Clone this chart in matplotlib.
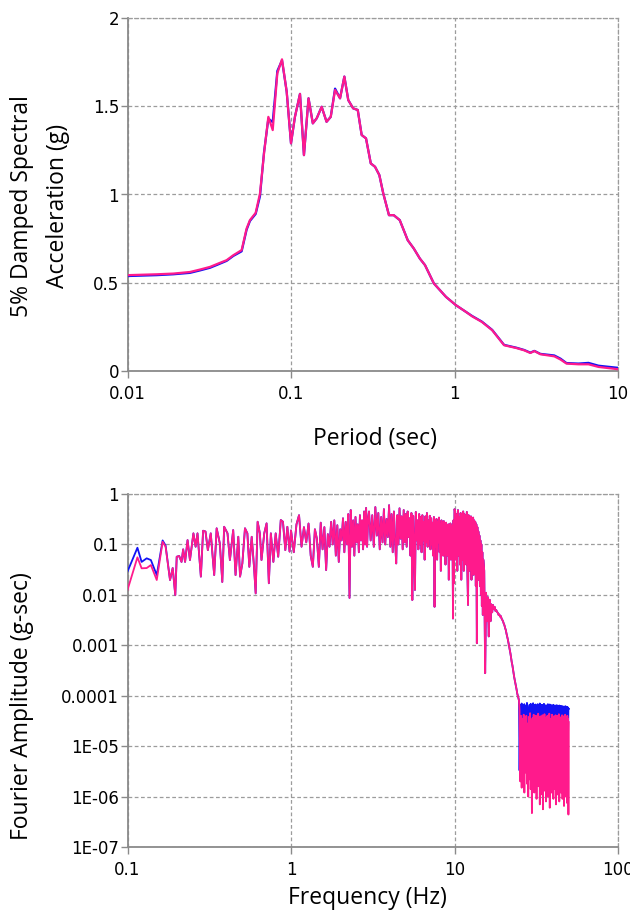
import numpy as np
import matplotlib
matplotlib.use("Agg")
import matplotlib.pyplot as plt
from matplotlib.ticker import NullLocator

# ---------------- top panel data: 5% damped spectral acceleration ----------------
period = [0.0100, 0.0151, 0.0191, 0.0241, 0.0278, 0.0320, 0.0359, 0.0404, 0.0444, 0.0499,
          0.0535, 0.0561, 0.0608, 0.0646, 0.0684, 0.0727, 0.0773, 0.0825, 0.0881, 0.0941,
          0.1000, 0.1057, 0.1135, 0.1200, 0.1280, 0.1360, 0.1437, 0.1540, 0.1650, 0.1750,
          0.1860, 0.1995, 0.2120, 0.2240, 0.2400, 0.2560, 0.2705, 0.2876, 0.3076, 0.3266,
          0.3470, 0.3667, 0.3974, 0.4246, 0.4624, 0.5176, 0.5636, 0.6140, 0.6600, 0.7480,
          0.8870, 1.020, 1.175, 1.280, 1.470, 1.700, 2.010, 2.390, 2.670, 2.910,
          3.080, 3.350, 4.080, 4.450, 4.840, 5.730, 6.600, 7.600, 10.00]
sa_pink = [0.543, 0.548, 0.552, 0.561, 0.575, 0.590, 0.609, 0.628, 0.656, 0.685,
           0.807, 0.855, 0.896, 1.006, 1.233, 1.440, 1.365, 1.687, 1.766, 1.583,
           1.290, 1.440, 1.570, 1.223, 1.545, 1.403, 1.432, 1.497, 1.412, 1.440,
           1.592, 1.545, 1.668, 1.535, 1.488, 1.479, 1.337, 1.318, 1.176, 1.157,
           1.110, 1.006, 0.883, 0.883, 0.855, 0.741, 0.694, 0.637, 0.600, 0.496,
           0.420, 0.373, 0.335, 0.310, 0.278, 0.231, 0.146, 0.130, 0.117, 0.102,
           0.113, 0.095, 0.083, 0.065, 0.042, 0.038, 0.038, 0.023, 0.010]
sa_blue = [0.538, 0.543, 0.548, 0.556, 0.570, 0.585, 0.604, 0.624, 0.652, 0.678,
           0.800, 0.850, 0.890, 0.990, 1.240, 1.430, 1.410, 1.700, 1.760, 1.583,
           1.290, 1.440, 1.570, 1.223, 1.545, 1.403, 1.432, 1.497, 1.412, 1.440,
           1.600, 1.545, 1.668, 1.535, 1.488, 1.479, 1.337, 1.318, 1.176, 1.157,
           1.110, 1.006, 0.883, 0.883, 0.855, 0.741, 0.694, 0.637, 0.600, 0.496,
           0.420, 0.373, 0.335, 0.312, 0.280, 0.233, 0.148, 0.132, 0.119, 0.104,
           0.114, 0.097, 0.088, 0.070, 0.045, 0.042, 0.046, 0.030, 0.018]

top_xticks = [0.01, 0.1, 1, 10]
top_xlabels = ["0.01", "0.1", "1", "10"]
top_yticks = [0, 0.5, 1, 1.5, 2]
top_ylabels = ["0", "0.5", "1", "1.5", "2"]

# ---------------- bottom panel data: Fourier amplitude ----------------
# segment A (0.1 - 1 Hz), individually read points
freq_a = [0.100, 0.115, 0.122, 0.131, 0.139, 0.151, 0.164, 0.171, 0.182, 0.189,
          0.196, 0.200, 0.207, 0.214, 0.219, 0.225, 0.233, 0.241, 0.253, 0.261,
          0.268, 0.281, 0.290, 0.300, 0.310, 0.323, 0.339, 0.351, 0.367, 0.380,
          0.390, 0.409, 0.423, 0.443, 0.458, 0.476, 0.488, 0.504, 0.523, 0.541,
          0.556, 0.575, 0.594, 0.608, 0.625, 0.645, 0.660, 0.686, 0.709, 0.732,
          0.753, 0.780, 0.806, 0.835, 0.866, 0.893, 0.923, 0.950, 0.980]
amp_a_pink = [0.0125, 0.0555, 0.0336, 0.034, 0.039, 0.0197, 0.113, 0.09, 0.0197, 0.034,
              0.0099, 0.057, 0.059, 0.045, 0.08, 0.045, 0.122, 0.049, 0.166, 0.09,
              0.166, 0.023, 0.187, 0.18, 0.077, 0.166, 0.0247, 0.209, 0.105, 0.018,
              0.224, 0.166, 0.049, 0.193, 0.0247, 0.142, 0.023, 0.042, 0.209, 0.166,
              0.036, 0.142, 0.036, 0.0107, 0.282, 0.166, 0.049, 0.166, 0.262, 0.017,
              0.166, 0.045, 0.166, 0.057, 0.305, 0.282, 0.077, 0.224, 0.072]
amp_a_blue = [0.029, 0.086, 0.045, 0.053, 0.049, 0.0247, 0.12, 0.095, 0.0197, 0.034,
              0.0099, 0.057, 0.059, 0.045, 0.08, 0.045, 0.122, 0.049, 0.166, 0.09,
              0.166, 0.023, 0.187, 0.18, 0.077, 0.166, 0.0247, 0.209, 0.105, 0.018,
              0.224, 0.166, 0.049, 0.193, 0.0247, 0.142, 0.023, 0.042, 0.209, 0.166,
              0.036, 0.142, 0.036, 0.0107, 0.282, 0.166, 0.049, 0.166, 0.262, 0.017,
              0.166, 0.045, 0.166, 0.057, 0.305, 0.282, 0.077, 0.224, 0.072]

# segment B1 (1.00 - 2.96 Hz, evenly spaced FFT bins)
amp_b1 = [0.19, 0.07, 0.25, 0.38, 0.09, 0.22, 0.11, 0.26, 0.06, 0.036,
          0.2, 0.13, 0.036, 0.27, 0.08, 0.22, 0.031, 0.16, 0.09, 0.28,
          0.1, 0.3, 0.06, 0.24, 0.045, 0.2, 0.12, 0.33, 0.07, 0.28,
          0.1, 0.4, 0.0087, 0.48, 0.09, 0.3, 0.06, 0.35, 0.11, 0.25,
          0.07, 0.38, 0.12, 0.3, 0.08, 0.45, 0.1, 0.53, 0.09, 0.32]
# segment B2 (3.00 - 10.00 Hz)
amp_b2 = [0.45, 0.12, 0.38, 0.09, 0.55, 0.15, 0.42, 0.08, 0.35, 0.11,
          0.5, 0.1, 0.32, 0.14, 0.6, 0.09, 0.4, 0.07, 0.45, 0.12,
          0.042, 0.38, 0.1, 0.52, 0.13, 0.36, 0.08, 0.48, 0.11, 0.4,
          0.09, 0.45, 0.14, 0.33, 0.06, 0.42, 0.0079, 0.37, 0.1, 0.0125,
          0.44, 0.12, 0.3, 0.08, 0.4, 0.1, 0.35, 0.07, 0.38, 0.12,
          0.28, 0.05, 0.36, 0.11, 0.42, 0.09, 0.3, 0.13, 0.37, 0.08,
          0.33, 0.1, 0.27, 0.06, 0.35, 0.0058, 0.3, 0.09, 0.32, 0.05,
          0.28, 0.11, 0.34, 0.07, 0.25, 0.03, 0.3, 0.09, 0.26, 0.06,
          0.29, 0.08, 0.24, 0.04, 0.27, 0.1, 0.22, 0.06, 0.25, 0.02,
          0.23, 0.07, 0.26, 0.05, 0.2, 0.08, 0.24, 0.0034, 0.3, 0.017,
          0.5]
# segment B3 (10.1 - 15.0 Hz)
amp_b3 = [0.45, 0.05, 0.4, 0.03, 0.48, 0.06, 0.35, 0.04, 0.42, 0.02,
          0.38, 0.05, 0.45, 0.03, 0.4, 0.06, 0.36, 0.04, 0.44, 0.025,
          0.0063, 0.38, 0.03, 0.33, 0.05, 0.36, 0.02, 0.3, 0.04, 0.34,
          0.025, 0.3, 0.035, 0.28, 0.015, 0.25, 0.0011, 0.22, 0.02, 0.18,
          0.02, 0.15, 0.015, 0.12, 0.01, 0.1, 0.006, 0.07, 0.004, 0.05]
# segment C (15.2 - 24.8 Hz), roll-off
amp_c = [0.03, 0.00028, 0.011, 0.003, 0.009, 0.0015, 0.008, 0.003, 0.0065, 0.0045,
         0.0063, 0.0052, 0.0058, 0.0048, 0.005, 0.0046, 0.0044, 0.004, 0.0041, 0.0037,
         0.0038, 0.0034, 0.0032, 0.003, 0.0027, 0.0025, 0.0022, 0.002, 0.0017, 0.0015,
         0.0013, 0.0011, 0.00095, 0.0008, 0.00068, 0.00055, 0.00046, 0.0004, 0.00033, 0.00028,
         0.00023, 0.0002, 0.00017, 0.00015, 0.00013, 0.00011, 0.0001, 0.00009, 0.00008]
# segment D (25.0 - 50.0 Hz), noise floor
amp_d_pink = [5e-5, 2e-6, 4e-5, 1.5e-6, 3.5e-5, 2.5e-6, 4.2e-5, 1.2e-6, 3e-5, 3e-6,
              4e-5, 1.8e-6, 2.8e-5, 1e-6, 3.8e-5, 2.2e-6, 4.5e-5, 1.4e-6, 3.2e-5, 4.7e-7,
              3.6e-5, 2e-6, 4.2e-5, 1.2e-6, 2.6e-5, 3.5e-6, 4e-5, 9e-7, 3.3e-5, 2.4e-6,
              4.4e-5, 1.6e-6, 3e-5, 7e-7, 3.9e-5, 2e-6, 2.7e-5, 1.1e-6, 4.1e-5, 5.6e-7,
              3.4e-5, 2.6e-6, 4.3e-5, 1.3e-6, 2.9e-5, 8e-7, 3.7e-5, 2.2e-6, 4e-5, 1e-6,
              3.1e-5, 1.7e-6, 4.4e-5, 6e-7, 3.5e-5, 2.8e-6, 2.6e-5, 1.2e-6, 4.2e-5, 1.9e-6,
              3.3e-5, 9e-7, 3.9e-5, 2.3e-6, 2.8e-5, 1.4e-6, 4.1e-5, 7e-7, 3.2e-5, 2e-6,
              4e-5, 1.1e-6, 3e-5, 2.5e-6, 4.3e-5, 8e-7, 3.6e-5, 1.6e-6, 2.7e-5, 1.2e-6,
              3.8e-5, 2.1e-6, 4.1e-5, 9e-7, 3.1e-5, 1.5e-6, 3.9e-5, 6.5e-7, 3.4e-5, 2.4e-6,
              4.2e-5, 1e-6, 2.9e-5, 1.8e-6, 3.7e-5, 7.5e-7, 4e-5, 1.3e-6, 3.5e-5, 4.4e-7,
              3e-5]
amp_d_blue = [3.3e-6, 6.5e-5, 2e-5, 7e-5, 1.5e-5, 6e-5, 2.5e-5, 6.8e-5, 1.2e-5, 6.2e-5,
              2.2e-5, 7.2e-5, 1.8e-5, 5.8e-5, 1e-5, 6.6e-5, 2.6e-5, 6.9e-5, 1.4e-5, 6e-5,
              2e-5, 7.1e-5, 1.6e-5, 6.4e-5, 9e-6, 6.7e-5, 2.3e-5, 5.9e-5, 1.3e-5, 6.8e-5,
              2.1e-5, 6.3e-5, 1.1e-5, 7e-5, 1.9e-5, 6.1e-5, 2.4e-5, 6.6e-5, 1e-5, 6.4e-5,
              1.7e-5, 6.9e-5, 2.2e-5, 5.8e-5, 1.3e-5, 6.5e-5, 2e-5, 6.2e-5, 1.5e-5, 6.8e-5,
              2.5e-5, 6e-5, 1.2e-5, 6.7e-5, 1.8e-5, 5.9e-5, 2.1e-5, 6.5e-5, 9.5e-6, 6.3e-5,
              2.3e-5, 6.6e-5, 1.4e-5, 6e-5, 2e-5, 6.4e-5, 1.1e-5, 5.8e-5, 1.9e-5, 6.5e-5,
              1.6e-5, 6.2e-5, 2.4e-5, 5.7e-5, 1.2e-5, 6.4e-5, 2e-5, 6e-5, 1.4e-5, 6.3e-5,
              2.2e-5, 5.8e-5, 1e-5, 6.2e-5, 1.8e-5, 5.9e-5, 2.3e-5, 6.1e-5, 1.3e-5, 5.7e-5,
              2e-5, 6.2e-5, 1.5e-5, 5.8e-5, 2.1e-5, 6e-5, 1.1e-5, 5.9e-5, 1.7e-5, 5.6e-5,
              5.5e-5]

# FFT bins of the evenly spaced segments (start, end in Hz)
seg_b1_range = (1.00, 2.96)
seg_b2_range = (3.00, 10.00)
seg_b3_range = (10.1, 15.0)
seg_c_range = (15.2, 24.8)
seg_d_range = (25.0, 50.0)

bot_xticks = [0.1, 1, 10, 100]
bot_xlabels = ["0.1", "1", "10", "100"]
bot_yticks = [1e-7, 1e-6, 1e-5, 1e-4, 1e-3, 1e-2, 1e-1, 1]
bot_ylabels = ["1E-07", "1E-06", "1E-05", "0.0001", "0.001", "0.01", "0.1", "1"]

# ---------------- assemble ----------------
def grid_for(rng, vals):
    return np.linspace(rng[0], rng[1], len(vals))

freq = np.concatenate([
    np.array(freq_a),
    grid_for(seg_b1_range, amp_b1),
    grid_for(seg_b2_range, amp_b2),
    grid_for(seg_b3_range, amp_b3),
    grid_for(seg_c_range, amp_c),
    grid_for(seg_d_range, amp_d_pink),
])
amp_pink = np.concatenate([amp_a_pink, amp_b1, amp_b2, amp_b3, amp_c, amp_d_pink])
amp_blue = np.concatenate([amp_a_blue, amp_b1, amp_b2, amp_b3, amp_c, amp_d_blue])

BLUE = "#1212F5"
PINK = "#FF1A8C"
GRID = "#9c9c9c"
SPINE = "#8a8a8a"
TICKFONT = "DejaVu Sans"
LABELFONT = ["Open Sans", "DejaVu Sans"]

W, H = 630, 910
fig = plt.figure(figsize=(W / 100, H / 100), dpi=100)
ax1 = fig.add_axes([127.5 / W, 1 - 371 / H, 490.5 / W, 353 / H])
ax2 = fig.add_axes([127.5 / W, 1 - 847 / H, 490.5 / W, 353 / H])


def style(ax):
    ax.set_axisbelow(True)
    ax.grid(True, which="major", color=GRID, linestyle=(0, (3, 2)), linewidth=0.9)
    for s in ["top", "right"]:
        ax.spines[s].set_color(GRID)
        ax.spines[s].set_linestyle((0, (3, 2)))
        ax.spines[s].set_linewidth(0.9)
    for s in ["left", "bottom"]:
        ax.spines[s].set_color(SPINE)
        ax.spines[s].set_linewidth(1.3)
    ax.tick_params(axis="both", which="major", length=5, width=1.0, color=SPINE,
                   labelsize=12, labelcolor="black")
    ax.tick_params(axis="y", pad=1)
    ax.tick_params(axis="x", pad=5)
    for lab in ax.get_xticklabels() + ax.get_yticklabels():
        lab.set_family(TICKFONT)


# top panel
ax1.plot(period, sa_blue, color=BLUE, lw=1.6, zorder=3)
ax1.plot(period, sa_pink, color=PINK, lw=1.6, zorder=4)
ax1.set_xscale("log")
ax1.set_xlim(0.01, 10)
ax1.set_ylim(0, 2)
ax1.set_xticks(top_xticks)
ax1.set_xticklabels(top_xlabels)
ax1.set_yticks(top_yticks)
ax1.set_yticklabels(top_ylabels)
ax1.xaxis.set_minor_locator(NullLocator())
style(ax1)

# bottom panel
ax2.plot(freq, amp_blue, color=BLUE, lw=1.3, zorder=3)
ax2.plot(freq, amp_pink, color=PINK, lw=1.3, zorder=4)
ax2.set_xscale("log")
ax2.set_yscale("log")
ax2.set_xlim(0.1, 100)
ax2.set_ylim(1e-7, 1)
ax2.set_xticks(bot_xticks)
ax2.set_xticklabels(bot_xlabels)
ax2.set_yticks(bot_yticks)
ax2.set_yticklabels(bot_ylabels)
ax2.xaxis.set_minor_locator(NullLocator())
ax2.yaxis.set_minor_locator(NullLocator())
style(ax2)

# axis titles
fs = 16.5
fig.text(375 / W, 1 - 445 / H, "Period (sec)", ha="center", va="baseline",
         fontsize=fs, family=LABELFONT)
fig.text(367.5 / W, 1 - 904 / H, "Frequency (Hz)", ha="center", va="baseline",
         fontsize=fs, family=LABELFONT)
fig.text(22 / W, 1 - 206 / H, "5% Damped Spectral", rotation=90, ha="center",
         va="center", fontsize=fs, family=LABELFONT)
fig.text(58 / W, 1 - 206 / H, "Acceleration (g)", rotation=90, ha="center",
         va="center", fontsize=fs, family=LABELFONT)
fig.text(22 / W, 1 - 706 / H, "Fourier Amplitude (g-sec)", rotation=90, ha="center",
         va="center", fontsize=fs, family=LABELFONT)

fig.savefig("out.png", dpi=100)
